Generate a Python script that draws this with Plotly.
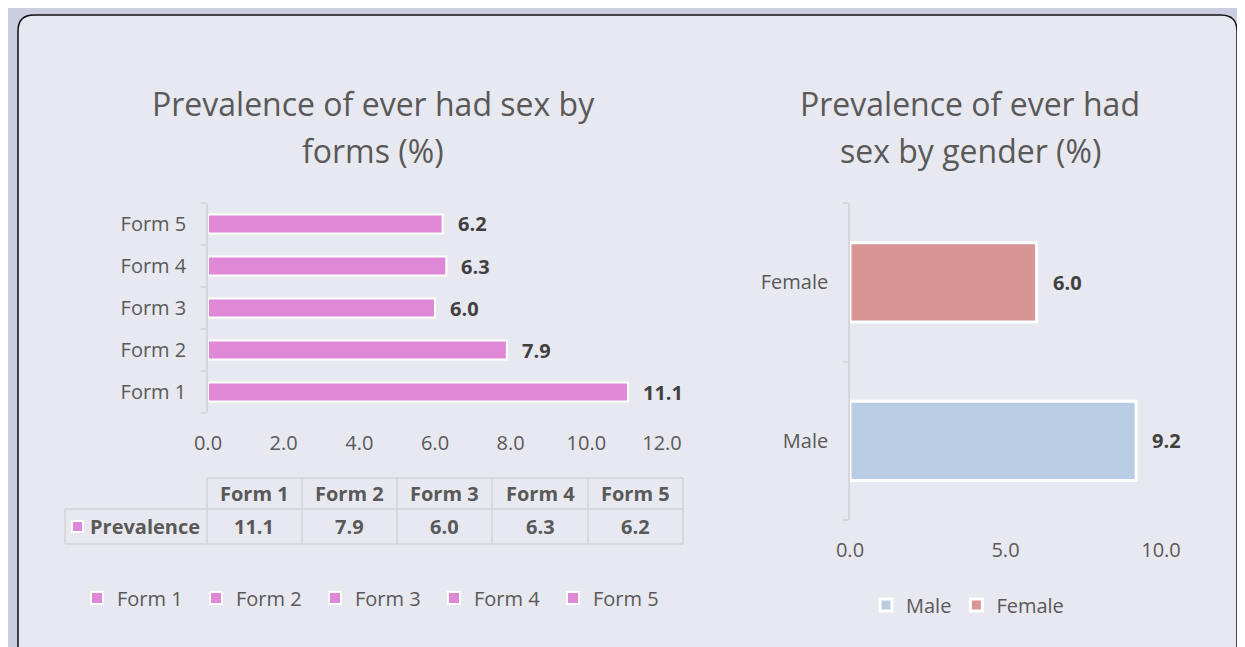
import plotly.graph_objects as go

# ---------------- data ----------------
forms = ["Form 1", "Form 2", "Form 3", "Form 4", "Form 5"]
form_values = [11.1, 7.9, 6.0, 6.3, 6.2]
genders = ["Male", "Female"]
gender_values = [9.2, 6.0]
form_ticks = [0, 2, 4, 6, 8, 10, 12]
gender_ticks = [0, 5, 10]
table_row_label = "Prevalence"

W, H = 1245, 647
OFF = 8  # page body margin
def X(px):
    return (px - OFF) / W
def Y(py):
    return 1 - (py - OFF) / H

GREY = "#595959"
DARK = "#404040"
PINK = "#df88d8"
MALE_C = "#b8cce4"
FEMALE_C = "#d99594"
FONT = "Open Sans"
AXIS_C = "#d6d6dc"

fig = go.Figure()

for f, v in zip(forms, form_values):
    fig.add_trace(go.Bar(
        x=[v], y=[f], orientation="h", name=f,
        marker=dict(color=PINK, line=dict(color="white", width=2)),
        width=0.45, xaxis="x", yaxis="y", legend="legend",
        hoverinfo="skip",
    ))

for g, v, c in zip(genders, gender_values, [MALE_C, FEMALE_C]):
    fig.add_trace(go.Bar(
        x=[v], y=[g], orientation="h", name=g,
        marker=dict(color=c, line=dict(color="white", width=3)),
        width=0.5, xaxis="x2", yaxis="y2", legend="legend2",
        hoverinfo="skip",
    ))

annotations = []
for f, v in zip(forms, form_values):
    annotations.append(dict(x=v, y=f, xref="x", yref="y", text=f"<b>{v:.1f}</b>",
                            showarrow=False, xanchor="left", xshift=13,
                            font=dict(family=FONT, size=20, color=DARK)))
for g, v in zip(genders, gender_values):
    annotations.append(dict(x=v, y=g, xref="x2", yref="y2", text=f"<b>{v:.1f}</b>",
                            showarrow=False, xanchor="left", xshift=14,
                            font=dict(family=FONT, size=20, color=DARK)))

tfont = dict(family=FONT, size=32, color=GREY)
for txt, cx, cy in [("Prevalence of ever had sex by", 373, 104), ("forms (%)", 373, 151),
                    ("Prevalence of ever had", 970, 104), ("sex by gender (%)", 970, 151)]:
    annotations.append(dict(x=X(cx), y=Y(cy), xref="paper", yref="paper", text=txt,
                            showarrow=False, xanchor="center", yanchor="middle", font=tfont))

col_edges = [207, 302, 397, 492, 588, 683]
hdr_top, row_mid, row_bot, lab_left = 478, 509, 544, 65
tbl_font = dict(family=FONT, size=20, color=GREY)
for i, f in enumerate(forms):
    cx = (col_edges[i] + col_edges[i + 1]) / 2
    annotations.append(dict(x=X(cx), y=Y((hdr_top + row_mid) / 2), xref="paper", yref="paper",
                            text=f"<b>{f}</b>", showarrow=False, xanchor="center", yanchor="middle",
                            font=tbl_font))
    annotations.append(dict(x=X(cx), y=Y((row_mid + row_bot) / 2), xref="paper", yref="paper",
                            text=f"<b>{form_values[i]:.1f}</b>", showarrow=False, xanchor="center",
                            yanchor="middle", font=tbl_font))
annotations.append(dict(x=X(88), y=Y((row_mid + row_bot) / 2), xref="paper", yref="paper",
                        text=f"<b>{table_row_label}</b>", showarrow=False, xanchor="left",
                        yanchor="middle", font=tbl_font))

shapes = []
r = 16
x0, x1, y0 = 18, 1237, 15
yb = 720
path = (f"M {X(x0)},{Y(yb)} L {X(x0)},{Y(y0 + r)} Q {X(x0)},{Y(y0)} {X(x0 + r)},{Y(y0)} "
        f"L {X(x1 - r)},{Y(y0)} Q {X(x1)},{Y(y0)} {X(x1)},{Y(y0 + r)} L {X(x1)},{Y(yb)} Z")
shapes.append(dict(type="path", path=path, xref="paper", yref="paper", layer="below",
                   fillcolor="#e8e8f0", line=dict(color="#111111", width=1.5)))
TL = dict(color="#d3d3d9", width=1.5)
def hline(xa, xb, yy):
    shapes.append(dict(type="line", xref="paper", yref="paper", x0=X(xa), x1=X(xb),
                       y0=Y(yy), y1=Y(yy), line=TL, layer="below"))
def vline(xx, ya, yb_):
    shapes.append(dict(type="line", xref="paper", yref="paper", x0=X(xx), x1=X(xx),
                       y0=Y(ya), y1=Y(yb_), line=TL, layer="below"))
hline(col_edges[0], col_edges[-1], hdr_top)
hline(lab_left, col_edges[-1], row_mid)
hline(lab_left, col_edges[-1], row_bot)
vline(lab_left, row_mid, row_bot)
for e in col_edges:
    vline(e, hdr_top, row_bot)
shapes.append(dict(type="rect", xref="paper", yref="paper", x0=X(72), x1=X(83),
                   y0=Y(521), y1=Y(532), fillcolor=PINK, line=dict(color="white", width=2)))

tickfont = dict(family=FONT, size=20, color=GREY)
fig.update_layout(
    width=W, height=H, margin=dict(l=0, r=0, t=0, b=0, autoexpand=False),
    paper_bgcolor="#cbcee0", plot_bgcolor="rgba(0,0,0,0)",
    barmode="overlay", showlegend=True,
    font=dict(family=FONT, color=GREY),
    xaxis=dict(domain=[X(208), X(662)], range=[0, 12], tickvals=form_ticks, tickformat=".1f",
               showgrid=False, zeroline=False, showline=False, ticks="", automargin=False,
               tickfont=tickfont, ticklabelstandoff=16, anchor="y", fixedrange=True),
    yaxis=dict(domain=[Y(413), Y(203)], type="category", categoryorder="array",
               categoryarray=forms, showgrid=False, zeroline=False, showline=True,
               linecolor=AXIS_C, linewidth=1.5, ticks="outside", ticklen=5, tickcolor=AXIS_C,
               tickwidth=1.5, tickson="boundaries", tickfont=tickfont, ticklabelstandoff=16,
               automargin=False, anchor="x", fixedrange=True),
    xaxis2=dict(domain=[X(850), X(1161)], range=[0, 10], tickvals=gender_ticks, tickformat=".1f",
                showgrid=False, zeroline=False, showline=False, ticks="", automargin=False,
                tickfont=tickfont, ticklabelstandoff=16, anchor="y2", fixedrange=True),
    yaxis2=dict(domain=[Y(520), Y(203)], type="category", categoryorder="array",
                categoryarray=genders, showgrid=False, zeroline=False, showline=True,
                linecolor=AXIS_C, linewidth=1.5, ticks="outside", ticklen=5, tickcolor=AXIS_C,
                tickwidth=1.5, tickson="boundaries", tickfont=tickfont, ticklabelstandoff=16,
                automargin=False, anchor="x2", fixedrange=True),
    legend=dict(orientation="h", x=X(77), y=Y(598), xanchor="left", yanchor="middle",
                bgcolor="rgba(0,0,0,0)", font=dict(family=FONT, size=20, color=GREY),
                entrywidth=74, entrywidthmode="pixels", traceorder="normal"),
    legend2=dict(orientation="h", x=X(866), y=Y(605), xanchor="left", yanchor="middle",
                 bgcolor="rgba(0,0,0,0)", font=dict(family=FONT, size=20, color=GREY),
                 traceorder="normal"),
    annotations=annotations, shapes=shapes,
)

fig.write_html("out.html")
